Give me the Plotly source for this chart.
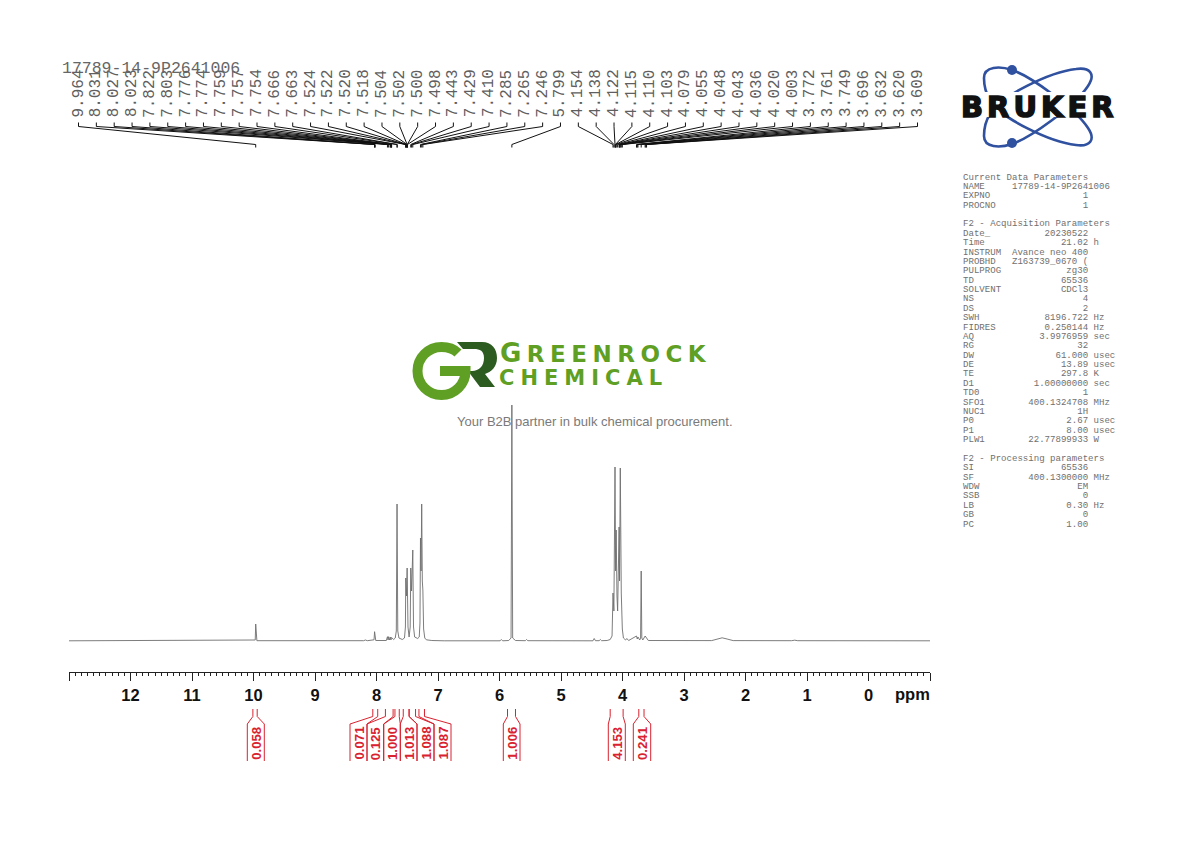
import re
import plotly.graph_objects as go

# ---------- data ----------
spectrum_ppm = [13.0, 9.985, 9.972, 9.964, 9.956, 9.945, 8.21, 8.18, 8.15, 8.05, 8.04, 8.031, 8.022, 8.012,
                7.84, 7.822, 7.812, 7.803, 7.79, 7.776, 7.765, 7.757, 7.72, 7.695, 7.678, 7.666, 7.654, 7.635, 7.58,
                7.545, 7.53, 7.524, 7.512, 7.502, 7.488, 7.47, 7.452, 7.443, 7.43, 7.41, 7.398, 7.38, 7.33, 7.305,
                7.293, 7.285, 7.275, 7.265, 7.255, 7.246, 7.234, 7.215, 7.19, 7.1, 6.9, 5.99, 5.97, 5.95, 5.85,
                5.812, 5.799, 5.786, 5.74, 5.58, 5.56, 5.54, 4.48, 4.46, 4.44, 4.38, 4.36, 4.34, 4.25,
                4.20, 4.17, 4.154, 4.14, 4.122, 4.112, 4.103, 4.09, 4.079, 4.055, 4.048, 4.036, 4.028, 4.02, 4.003,
                3.985, 3.95, 3.93, 3.90, 3.772, 3.76, 3.749, 3.72, 3.706, 3.696, 3.686, 3.67, 3.632, 3.62, 3.609, 3.58,
                2.55, 2.45, 2.38, 2.3, 2.2, 1.25, 1.2, 1.15, -1.0]
spectrum_int = [0.2, 0.3, 1.0, 17, 1.0, 0.3, 0.3, 1.0, 0.3, 0.5, 1.2, 9.3, 1.2, 0.5,
                0.5, 4.3, 1.0, 4.3, 1.0, 4.0, 1.0, 3.5, 1.5, 3.0, 10, 137, 10, 3.0, 1.5,
                3.0, 14, 63, 45, 73, 14, 4.0, 14, 73, 50, 91, 14, 4.0, 2.5, 4.0,
                18, 103, 70, 137, 60, 51, 12, 3.0, 1.2, 0.5, 0.2, 0.2, 1.5, 0.2, 0.5,
                3.0, 236, 3.0, 0.5, 0.3, 1.5, 0.3, 0.2, 2.5, 0.3, 0.3, 1.5, 0.3, 0.5,
                1.5, 5.0, 48, 30, 174, 70, 111, 45, 30, 114, 60, 173, 60, 48, 12,
                3.0, 1.0, 2.5, 0.5, 5.0, 2.0, 4.0, 1.0, 3.0, 70, 3.0, 1.0, 5.0, 4.0, 3.0, 0.5,
                0.4, 2.0, 3.2, 2.0, 0.4, 0.3, 0.8, 0.3, 0.2]

peak_ppm = [9.964, 8.031, 8.027, 8.023, 7.822, 7.803, 7.776, 7.774, 7.759, 7.757, 7.754, 7.666, 7.663, 7.524, 7.522,
            7.520, 7.518, 7.504, 7.502, 7.500, 7.498, 7.443, 7.429, 7.410, 7.285, 7.265, 7.246, 5.799, 4.154, 4.138,
            4.122, 4.115, 4.110, 4.103, 4.079, 4.055, 4.048, 4.043, 4.036, 4.020, 4.003, 3.772, 3.761, 3.749, 3.696,
            3.632, 3.620, 3.609]

integral_labels = ["0.058", "0.071", "0.125", "1.000", "1.013", "1.088", "1.087", "1.006", "4.153", "0.241"]
integral_from = [10.01, 8.06, 7.855, 7.70, 7.565, 7.47, 7.31, 5.87, 4.20, 3.735]
integral_to = [9.94, 7.98, 7.73, 7.63, 7.47, 7.365, 7.22, 5.74, 3.99, 3.65]

axis_ticks = list(range(-1, 14))
axis_tick_text = ["" if t in (-1, 13) else str(t) for t in axis_ticks]

param_rows = [
    "Current Data Parameters", ("NAME", "17789-14-9P2641006", ""), ("EXPNO", "1", ""), ("PROCNO", "1", ""), "",
    "F2 - Acquisition Parameters", ("Date_", "20230522", ""), ("Time", "21.02", "h"),
    ("INSTRUM", "Avance neo 400", ""), ("PROBHD", "Z163739_0670 (", ""), ("PULPROG", "zg30", ""), ("TD", "65536", ""),
    ("SOLVENT", "CDCl3", ""), ("NS", "4", ""), ("DS", "2", ""),
    ("SWH", "8196.722", "Hz"), ("FIDRES", "0.250144", "Hz"), ("AQ", "3.9976959", "sec"),
    ("RG", "32", ""), ("DW", "61.000", "usec"), ("DE", "13.89", "usec"),
    ("TE", "297.8", "K"), ("D1", "1.00000000", "sec"), ("TD0", "1", ""),
    ("SFO1", "400.1324708", "MHz"), ("NUC1", "1H", ""), ("P0", "2.67", "usec"),
    ("P1", "8.00", "usec"), ("PLW1", "22.77899933", "W"), "",
    "F2 - Processing parameters", ("SI", "65536", ""), ("SF", "400.1300000", "MHz"), ("WDW", "EM", ""),
    ("SSB", "0", ""), ("LB", "0.30", "Hz"), ("GB", "0", ""), ("PC", "1.00", ""),
]

# ---------- layout constants (page pixels) ----------
W, H = 1190, 842
AX_L, AX_R, AX_Y, BASE_Y = 69, 930, 672, 641
RED = "#d9222f"
BLUE = "#30519f"
GREEN = "#5f9f24"
DARK = "#2c5c20"
MONO = "Liberation Mono"
SANS = "Liberation Sans"


def px2ppm(px):
    return 13 - (px - AX_L) * 14 / (AX_R - AX_L)


def py2int(py):
    return BASE_Y - py


def page_path(path):
    """Turn a path written in page pixels into paper coordinates."""
    out = []
    for tok in re.findall(r"[A-Za-z]|[-\d.]+,[-\d.]+", path):
        if "," in tok:
            a, b = tok.split(",")
            out.append(f"{float(a) / W:.5f},{1 - float(b) / H:.5f}")
        else:
            out.append(tok)
    return " ".join(out)


fig = go.Figure()
fig.add_trace(go.Scatter(x=spectrum_ppm, y=spectrum_int, mode="lines",
                         line=dict(color="#6e6e6e", width=0.9), hoverinfo="skip"))

annots = []


def text(x, y, s, size, color, family=SANS, anchor="left", angle=0, **font):
    annots.append(dict(x=x / W, y=1 - y / H, text=s, xref="paper", yref="paper", showarrow=False, xanchor=anchor,
                       yanchor="middle", textangle=angle, font=dict(family=family, size=size, color=color, **font)))


# peak-list connectors
cx, cy = [], []
n = len(peak_ppm)
for i, p in enumerate(peak_ppm):
    sx = 78.5 + i * (917.5 - 78.5) / (n - 1)
    s = px2ppm(sx)
    cx += [s, s, p, p, None]
    cy += [py2int(122.5), py2int(126.5), py2int(144.5), py2int(147.5), None]
    text(sx + 0.5, 93.5, f"{p:.3f}", 16, "#5f5f5f", MONO, "center", -90)
fig.add_trace(go.Scatter(x=cx, y=cy, mode="lines", line=dict(color="#111111", width=1), hoverinfo="skip"))

# integrals
slot_edges = [(247.3, 264.3), (350, 367), (367, 383.7), (383.7, 400.3), (400.3, 417), (417, 434), (434, 451),
              (503.3, 520), (608.3, 625.3), (633.3, 650.7)]
ix, iy = [], []
for lab, a, b, (l, r) in zip(integral_labels, integral_from, integral_to, slot_edges):
    for v, e in ((a, l), (b, r)):
        ix += [v, v, px2ppm(e), px2ppm(e), None]
        iy += [py2int(709), py2int(716.5), py2int(724), py2int(761), None]
    text((l + r) / 2 + 0.5, 743.5, lab, 13.2, RED, SANS, "center", -90, weight="bold")
fig.add_trace(go.Scatter(x=ix, y=iy, mode="lines", line=dict(color=RED, width=1), hoverinfo="skip"))

text(60, 68, "17789-14-9P2641006", 16.5, "#666666", MONO)
text(932, 693.5, "ppm", 16.5, "#111111", SANS, "right", weight="bold")
for i, row in enumerate(param_rows):
    if isinstance(row, tuple):
        key, val, unit = row
        line = f"{key:<9}{val:>14} {unit}".rstrip()
    else:
        line = row
    if line:
        text(961, 177 + i * 9.38, line.replace(" ", "\u00a0"), 9.07, "#707070", MONO)

text(595, 421.5, "Your B2B partner in bulk chemical procurement.", 13, "#7a7a7a", SANS, "center")
text(497.5, 352.5, '<span style="letter-spacing:5.5px">G<span style="font-size:23px">REENROCK</span></span>', 26, GREEN,
     "DejaVu Sans", weight="bold")
text(496.5, 377.5, '<span style="letter-spacing:6px">CHEMICAL</span>', 21, GREEN, "DejaVu Sans", weight="bold")
text(1039, 107, '<span style="letter-spacing:4px;stroke:#111;stroke-width:1.5px">BRUKER</span>', 29, "#111111",
     "DejaVu Sans", "center", weight="bold")

# logos, drawn in page pixels
shapes = [
    dict(type="path", xref="paper", yref="paper", layer="above", line=dict(color=BLUE, width=2.6),
         path=page_path("M 984,78 C 984,66 1000,66 1012,70 C 1030,76 1075,108 1088,128 C 1096,140 1090,147 1076,145 "
                        "C 1050,142 1000,118 990,100 C 985,92 984,86 984,78 Z")),
    dict(type="path", xref="paper", yref="paper", layer="above", line=dict(color=BLUE, width=2.6),
         path=page_path("M 984,136 C 984,148 1000,148 1012,144 C 1030,138 1075,106 1088,86 C 1096,74 1090,67 1076,69 "
                        "C 1050,72 1000,96 990,114 C 985,122 984,128 984,136 Z")),
    dict(type="rect", xref="paper", yref="paper", layer="above", x0=955 / W, x1=1120 / W, y0=1 - 117 / H, y1=1 - 92 / H,
         line=dict(width=0), fillcolor="#ffffff"),
    dict(type="circle", xref="paper", yref="paper", layer="above", x0=1007 / W, x1=1017 / W,
         y0=1 - 75 / H, y1=1 - 65 / H, line=dict(width=0), fillcolor=BLUE),
    dict(type="circle", xref="paper", yref="paper", layer="above", x0=1007 / W, x1=1017 / W,
         y0=1 - 148 / H, y1=1 - 138 / H, line=dict(width=0), fillcolor=BLUE),
    dict(type="path", xref="paper", yref="paper", layer="above", fillcolor=DARK, line=dict(width=0),
         path=page_path("M 457,342 L 482,342 C 492,342 497,349 497,358 C 497,367 491,372 485,374 L 495,387 L 480,387 "
                        "L 468,371 L 472,371 C 479,371 484,366 484,358 C 484,351 480,349 474,349 L 463,349 Z")),
    dict(type="path", xref="paper", yref="paper", layer="above", line=dict(color=GREEN, width=10),
         path=page_path("M 458,353 C 454,349 448,347 441.5,347 C 428.25,347 417.5,357.75 417.5,371 "
                        "C 417.5,384.25 428.25,395 441.5,395 C 454.75,395 465.5,384.25 465.5,371 L 440,371")),
]

fig.update_layout(
    width=W, height=H, margin=dict(l=0, r=0, t=0, b=0), paper_bgcolor="#ffffff", plot_bgcolor="rgba(0,0,0,0)",
    showlegend=False, hovermode=False, annotations=annots, shapes=shapes,
    xaxis=dict(domain=[AX_L / W, AX_R / W], range=[13, -1], anchor="free", position=(H - AX_Y) / H,
               showgrid=False, zeroline=False,
               showline=True, linecolor="#222222", linewidth=1, ticks="outside", ticklen=8, tickwidth=1,
               tickcolor="#222222", tickmode="array", tickvals=axis_ticks, ticktext=axis_tick_text,
               tickangle=0, tickfont=dict(family=SANS, size=16.5, color="#111111", weight="bold"),
               minor=dict(tickmode="linear", tick0=0, dtick=0.1, ticklen=3, ticks="outside", tickwidth=1,
                          tickcolor="#222222", showgrid=False)),
    yaxis=dict(domain=[0, 1], range=[BASE_Y - H, BASE_Y], visible=False, showgrid=False, zeroline=False),
)

fig.write_html("out.html", config=dict(displayModeBar=False),
               post_script="document.body.style.margin='0';")
